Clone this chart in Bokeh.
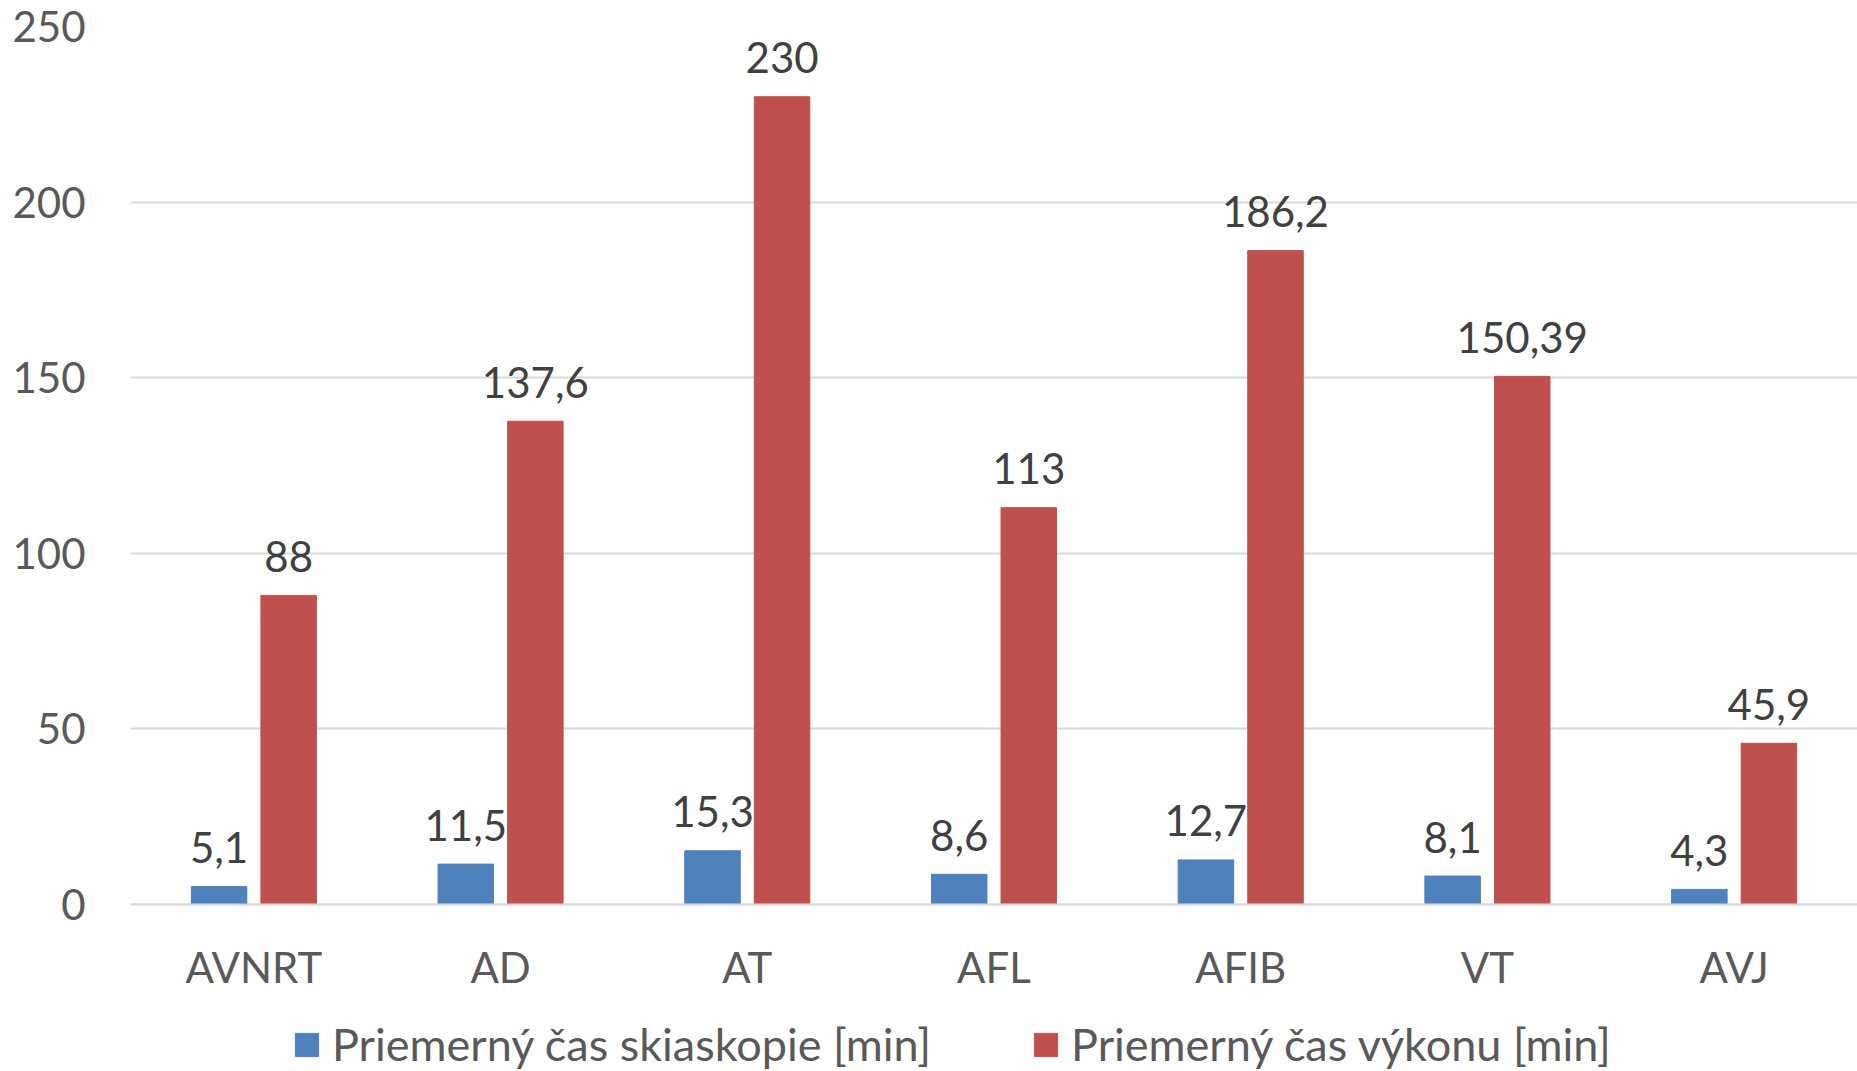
from bokeh.plotting import figure
from bokeh.models import ColumnDataSource, FactorRange, Range1d, FixedTicker, Legend, LegendItem, LabelSet
from bokeh.core.properties import value
from bokeh.transform import dodge
from bokeh.embed import file_html
from bokeh.resources import INLINE

categories = ["AVNRT", "AD", "AT", "AFL", "AFIB", "VT", "AVJ"]
skiaskopia = [5.1, 11.5, 15.3, 8.6, 12.7, 8.1, 4.3]
vykon = [88, 137.6, 230, 113, 186.2, 150.39, 45.9]
series_names = ["Priemerný čas skiaskopie [min]", "Priemerný čas výkonu [min]"]
y_ticks = [0, 50, 100, 150, 200, 250]


def fmt(v):
    return f"{v:g}".replace(".", ",")


src = ColumnDataSource(dict(
    cat=categories,
    s=skiaskopia,
    v=vykon,
    s_lbl=[fmt(x) for x in skiaskopia],
    v_lbl=[fmt(x) for x in vykon],
))

FONT = "Lato"
FS = "42px"

# frame extends below zero to host category labels and legend
Y_MAX = 250
PX_PER_UNIT = 878 / Y_MAX
FRAME_H = 1045
Y_MIN = -(FRAME_H - 878) / PX_PER_UNIT

p = figure(
    x_range=FactorRange(*categories, range_padding=0),
    y_range=Range1d(Y_MIN, Y_MAX),
    frame_width=1727, frame_height=FRAME_H,
    output_backend="svg", toolbar_location=None,
    min_border_left=130, min_border_right=0, min_border_top=26, min_border_bottom=0,
)
p.outline_line_color = None
p.background_fill_color = "white"
p.border_fill_color = "white"

BLUE = "#4F81BD"
RED = "#C0504D"

r1 = p.vbar(x=dodge("cat", -0.141, range=p.x_range), top="s", bottom=0, width=0.225, source=src,
            fill_color=BLUE, line_color=BLUE)
r2 = p.vbar(x=dodge("cat", 0.141, range=p.x_range), top="v", bottom=0, width=0.225, source=src,
            fill_color=RED, line_color=RED)

for xoff, col, lbl in [(-0.141, "s", "s_lbl"), (0.141, "v", "v_lbl")]:
    ls = LabelSet(x=dodge("cat", xoff, range=p.x_range), y=col, text=lbl, source=src,
                  text_align="center", text_baseline="middle", y_offset=39,
                  text_font=value(FONT), text_font_size=value(FS), text_color="#404040")
    p.add_layout(ls)

# grid
p.xgrid.grid_line_color = None
p.ygrid.grid_line_color = "#D9D9D9"
p.ygrid.grid_line_width = 2
p.ygrid.ticker = FixedTicker(ticks=y_ticks)

# y axis
p.yaxis.ticker = FixedTicker(ticks=y_ticks)
p.yaxis.axis_line_color = None
p.yaxis.major_tick_line_color = None
p.yaxis.minor_tick_line_color = None
p.yaxis.major_label_text_font = FONT
p.yaxis.major_label_text_font_size = FS
p.yaxis.major_label_text_color = "#595959"
p.yaxis.major_label_standoff = 39

# x axis drawn at y = 0
p.xaxis.fixed_location = 0
p.xaxis.axis_line_color = "#D9D9D9"
p.xaxis.axis_line_width = 2
p.xaxis.major_tick_line_color = None
p.xaxis.minor_tick_line_color = None
p.xaxis.major_label_text_font = FONT
p.xaxis.major_label_text_font_size = FS
p.xaxis.major_label_text_color = "#595959"
p.xaxis.major_label_standoff = 31

legend = Legend(
    items=[LegendItem(label=series_names[0], renderers=[r1]),
           LegendItem(label=series_names[1], renderers=[r2])],
    orientation="horizontal", location=(162, 0),
    label_text_font=FONT, label_text_font_size="45px", label_text_color="#595959",
    glyph_width=29, glyph_height=29, label_standoff=11, spacing=100,
    border_line_color=None, background_fill_alpha=0,
    padding=0, margin=0,
)
p.add_layout(legend, "center")

open("out.html", "w").write(file_html(p, INLINE))
